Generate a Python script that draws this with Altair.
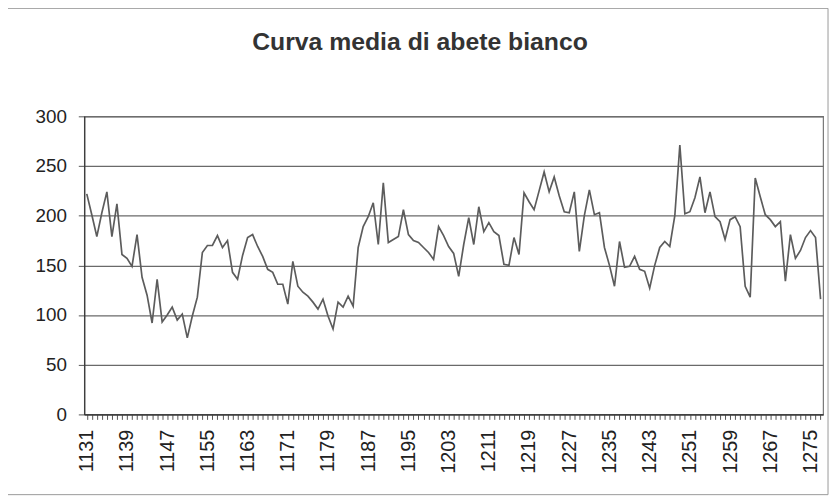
import altair as alt
import pandas as pd

first_year = 1131
ring_width = [
    222, 201, 179, 203, 224, 179, 212, 161, 157, 149,
    181, 138, 120, 92, 136, 93, 100, 108, 95, 101,
    77, 99, 118, 163, 170, 170, 180, 168, 175, 143,
    136, 160, 178, 181, 169, 159, 146, 143, 131, 131,
    111, 154, 129, 123, 119, 113, 106, 116, 99, 86,
    113, 108, 119, 109, 168, 189, 199, 213, 171, 233,
    173, 176, 179, 206, 181, 175, 173, 168, 163, 156,
    189, 180, 169, 162, 139, 171, 198, 171, 209, 184,
    193, 184, 180, 151, 150, 178, 161, 223, 214, 206,
    225, 244, 224, 239, 220, 204, 203, 224, 164, 200,
    226, 201, 203, 168, 150, 129, 174, 148, 149, 159,
    146, 144, 127, 150, 168, 174, 169, 200, 271, 202,
    204, 218, 239, 203, 224, 199, 194, 176, 196, 199,
    189, 129, 118, 238, 219, 201, 196, 189, 194, 134,
    181, 157, 165, 178, 185, 178, 116,
]
years = list(range(first_year, first_year + len(ring_width)))
label_years = [1131, 1139, 1147, 1155, 1163, 1171, 1179, 1187, 1195,
               1203, 1211, 1219, 1227, 1235, 1243, 1251, 1259, 1267, 1275]
y_ticks = [0, 50, 100, 150, 200, 250, 300]
title_text = "Curva media di abete bianco"

df = pd.DataFrame({"anno": years, "valore": ring_width})

FONT = "Liberation Sans"
W, H = 746, 301

label_test = " || ".join(f"datum.value == {y}" for y in label_years)

line = alt.Chart(df).mark_line(color="#5c5c5c", strokeWidth=1.7).encode(
    x=alt.X(
        "anno:Q",
        title=None,
        scale=alt.Scale(domain=[years[0] - 0.5, years[-1] + 0.5], nice=False, zero=False),
        axis=alt.Axis(
            values=years,
            labelExpr=f"({label_test}) ? '' + datum.value : ''",
            labelAngle=-90,
            labelFontSize=20,
            labelFont=FONT,
            labelColor="#222222",
            labelPadding=10,
            labelOverlap=False,
            tickSize=5,
            tickColor="#555555",
            domainColor="#333333",
            domainWidth=1.2,
            grid=False,
        ),
    ),
    y=alt.Y(
        "valore:Q",
        title=None,
        scale=alt.Scale(domain=[0, 300], nice=False),
        axis=alt.Axis(
            values=y_ticks,
            labelFontSize=19,
            labelFont=FONT,
            labelColor="#222222",
            labelPadding=12,
            tickSize=6,
            tickColor="#555555",
            domainColor="#333333",
            domainWidth=1.2,
            grid=True,
            gridColor="#6a6a6a",
            gridWidth=1.3,
        ),
    ),
)

frame = alt.Chart(pd.DataFrame({"k": [0]})).mark_rect(
    filled=False, stroke="#9a9a9a", strokeWidth=1
).encode(
    x=alt.value(-79), x2=alt.value(751), y=alt.value(-109), y2=alt.value(382)
)

chart = alt.layer(frame, line).properties(
    width=W,
    height=H,
    padding={"left": 77, "top": 107, "right": 8, "bottom": 80},
    autosize=alt.AutoSizeParams(type="none"),
    title=alt.TitleParams(
        text=title_text,
        font=FONT,
        fontSize=25,
        fontWeight="bold",
        color="#333333",
        anchor="middle",
        dx=-34,
        offset=-48,
    ),
).configure_view(stroke="#777777", strokeWidth=1.2)

chart.save("out.html", embed_options={"renderer": "svg", "actions": False})
